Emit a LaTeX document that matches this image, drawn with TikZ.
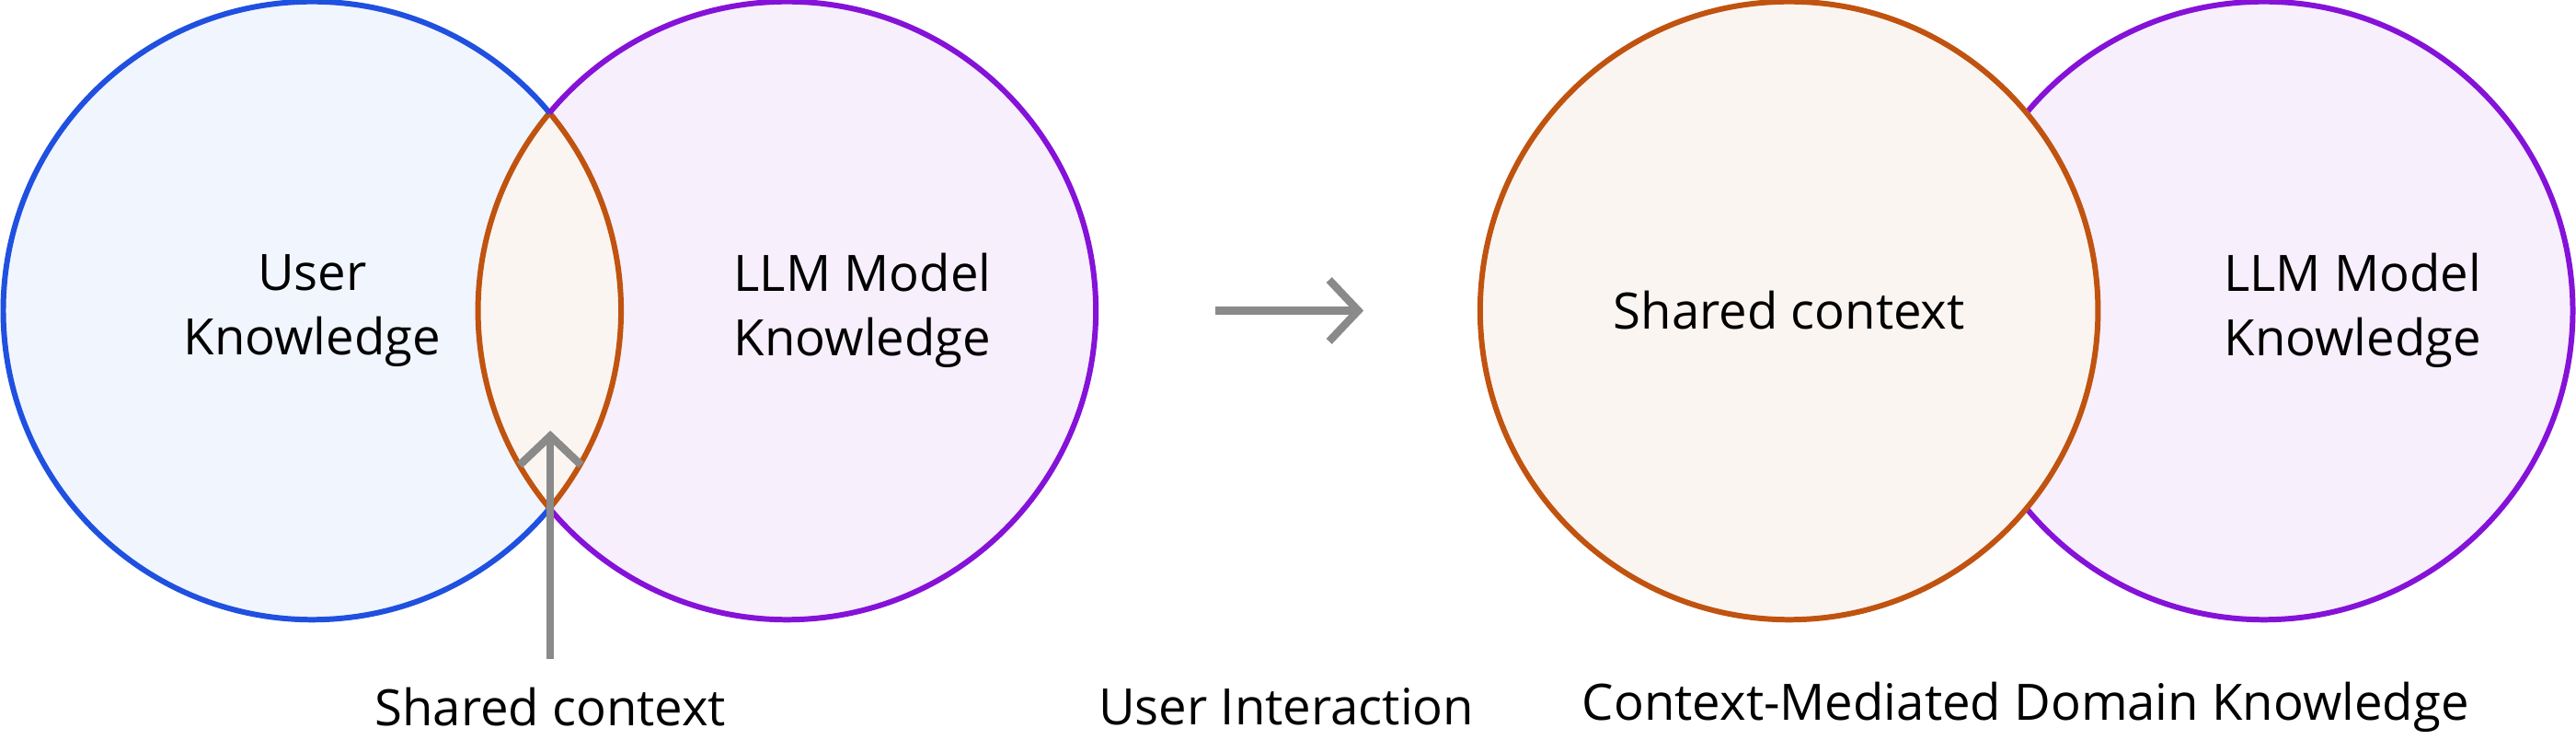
\documentclass[tikz,border=0pt]{standalone}
\usepackage{fontspec}
\setmainfont{Open Sans}
\usetikzlibrary{arrows.meta,positioning}
\definecolor{userblue}{HTML}{1F50E0}
\definecolor{llmpurple}{HTML}{8512D8}
\definecolor{ctxorange}{HTML}{C0530F}
\definecolor{userfill}{HTML}{F1F5FD}
\definecolor{llmfill}{HTML}{F7EFFB}
\definecolor{ctxfill}{HTML}{FBF5F1}
\definecolor{arrowgray}{HTML}{8A8A8A}
\begin{document}
\begin{tikzpicture}[x=0.017857cm,y=-0.017857cm,
	Label/.style	= {font=\fontsize{15.5}{20}\selectfont, align=center, text=black},
	Ring/.style	= {line width=1.7pt},
	Flow/.style	= {line width=2.4pt, arrowgray, -{Straight Barb[length=9pt,width=19pt,line width=2.4pt]}}]
	\useasboundingbox (0,0) rectangle (1568,450);
	
	% left venn
	\coordinate (user) at (190,189);
	\coordinate (llm) at (479,189);
	\fill [userfill] (user) circle [radius=3.357cm];
	\fill [llmfill] (llm) circle [radius=3.357cm];
	\begin{scope}
		\clip (user) circle [radius=3.357cm];
		\fill [ctxfill] (llm) circle [radius=3.357cm];
		\draw [Ring, ctxorange] (llm) circle [radius=3.357cm];
	\end{scope}
	\begin{scope}
		\clip (llm) circle [radius=3.357cm];
		\draw [Ring, ctxorange] (user) circle [radius=3.357cm];
	\end{scope}
	\begin{scope}[even odd rule]
		\clip (-10,-10) rectangle (1600,460) (llm) circle [radius=3.357cm];
		\draw [Ring, userblue] (user) circle [radius=3.357cm];
	\end{scope}
	\begin{scope}[even odd rule]
		\clip (-10,-10) rectangle (1600,460) (user) circle [radius=3.357cm];
		\draw [Ring, llmpurple] (llm) circle [radius=3.357cm];
	\end{scope}
	\node (userTxt) at (user) [Label] {User\\Knowledge};
	\node (llmTxt) at (525,189) [Label] {LLM Model\\Knowledge};
	\node (sharedTxt) at (335,430) [Label] {Shared context};
	\coordinate (lensTop) at (335,262);
	\coordinate (lensFoot) at (335,401);
	\draw [Flow] (lensFoot) -- (lensTop);
	
	% middle arrow
	\coordinate (flowA) at (740,189);
	\coordinate (flowB) at (830,189);
	\draw [Flow] (flowA) -- (flowB);
	\node (interTxt) at (783,430) [Label] {User Interaction};
	
	% right venn
	\coordinate (ctx) at (1089,189);
	\coordinate (llmR) at (1378,189);
	\draw [Ring, llmpurple, fill=llmfill] (llmR) circle [radius=3.357cm];
	\draw [Ring, ctxorange, fill=ctxfill] (ctx) circle [radius=3.357cm];
	\node (ctxTxt) at (ctx) [Label] {Shared context};
	\node (llmRTxt) at (1432,189) [Label] {LLM Model\\Knowledge};
	\node (domainTxt) at (1233,430) [Label] {Context-Mediated Domain Knowledge};
\end{tikzpicture}
\end{document}
